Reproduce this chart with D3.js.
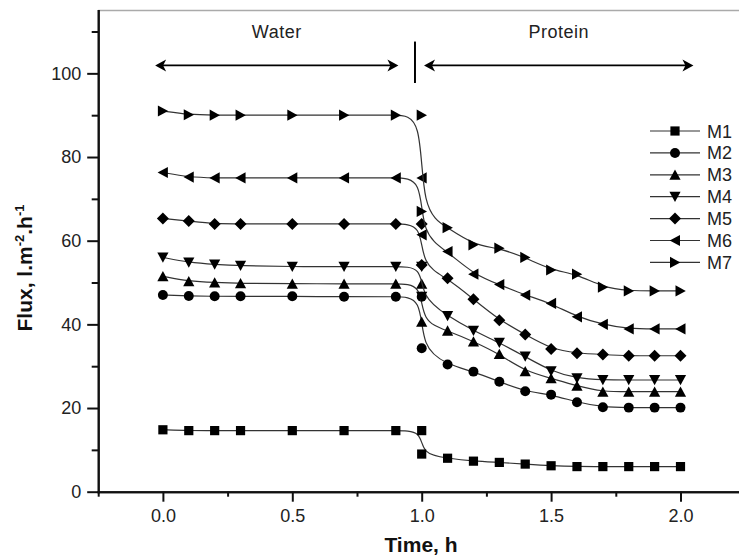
<!DOCTYPE html>
<html>
<head>
<meta charset="utf-8">
<script src="https://cdnjs.cloudflare.com/ajax/libs/d3/7.8.5/d3.min.js"></script>
<style>
	body { margin: 0; background: #fff; }
	svg { display: block; font-family: "Liberation Sans", Arial, sans-serif; }
	.axis text { font-size: 18px; fill: #222; }
	.axis path, .axis line { stroke: #111; stroke-width: 2; }
	.series-line { fill: none; stroke: #333; stroke-width: 1.2; }
	.label { font-size: 18px; fill: #222; }
	.title { font-size: 21px; font-weight: bold; fill: #111; }
</style>
</head>
<body>
<div class="chart"></div>
<script>
// ---- data ----
const times = [0, 0.1, 0.2, 0.3, 0.5, 0.7, 0.9, 1.0, 1.0, 1.1, 1.2, 1.3, 1.4, 1.5, 1.6, 1.7, 1.8, 1.9, 2.0];

const m1 = [14.8, 14.6, 14.6, 14.6, 14.6, 14.6, 14.6, 14.6, 9.0, 8.0, 7.3, 7.0, 6.6, 6.2, 6.0, 6.0, 6.0, 6.0, 6.0];
const m2 = [47.0, 46.8, 46.7, 46.7, 46.7, 46.6, 46.6, 46.6, 34.3, 30.4, 28.7, 26.3, 24.0, 23.2, 21.4, 20.2, 20.1, 20.1, 20.1];
const m3 = [51.5, 50.3, 50.0, 49.8, 49.7, 49.7, 49.7, 49.7, 40.6, 38.5, 35.9, 32.9, 28.8, 27.1, 25.3, 23.9, 23.9, 23.9, 23.9];
const m4 = [56.0, 54.8, 54.3, 54.0, 53.8, 53.8, 53.8, 53.8, 46.6, 42.0, 38.5, 35.6, 32.3, 28.8, 27.1, 26.7, 26.7, 26.7, 26.7];
const m5 = [65.3, 64.7, 64.0, 64.0, 64.0, 64.0, 64.0, 64.0, 54.2, 51.0, 46.0, 41.0, 37.6, 34.1, 33.1, 32.8, 32.5, 32.5, 32.5];
const m6 = [76.3, 75.2, 75.0, 75.0, 75.0, 75.0, 75.0, 75.0, 61.4, 57.4, 52.0, 49.5, 47.0, 45.0, 41.8, 40.0, 38.9, 38.9, 38.9];
const m7 = [91.0, 90.1, 90.0, 90.0, 90.0, 90.0, 90.0, 90.0, 67.0, 63.1, 59.0, 58.2, 56.0, 53.0, 52.0, 48.9, 48.0, 48.0, 48.0];

const seriesNames = ['M1', 'M2', 'M3', 'M4', 'M5', 'M6', 'M7'];
const seriesValues = [m1, m2, m3, m4, m5, m6, m7];
const symbolKinds = ['square', 'circle', 'up', 'down', 'diamond', 'left', 'right'];

const xMajor = [0, 0.5, 1.0, 1.5, 2.0];
const xMinor = [-0.25, 0.25, 0.75, 1.25, 1.75, 2.25];
const yMajor = [0, 20, 40, 60, 80, 100];
const yMinor = [10, 30, 50, 70, 90, 110];

// phase annotations (time, flux)
const phases = [
	{ name: 'Water', from: -0.03, to: 0.91 },
	{ name: 'Protein', from: 1.009, to: 2.05 }
];
const phaseSplit = 0.974;
const arrowLevel = 101.9;

//---->LAYOUT<-----//
const outerW = 739,
	outerH = 557;

const x = d3.scaleLinear().domain([-0.25, 2.25]).range([98.2, 745.2]);
const y = d3.scaleLinear().domain([0, 115]).range([491.7, 10.6]);

const svg = d3.select('.chart').append('svg')
	.attr('width', outerW)
	.attr('height', outerH);

// top frame line (right side is cut off in the picture)
svg.append('line')
	.attr('x1', x(-0.25)).attr('x2', outerW)
	.attr('y1', y(115)).attr('y2', y(115))
	.attr('stroke', '#aaa').attr('stroke-width', 1.5);

// axes
svg.append('g')
	.attr('class', 'x axis')
	.attr('transform', `translate(0, ${y(0)})`)
	.call(d3.axisBottom(x)
		.tickValues(xMajor)
		.tickFormat(d3.format('.1f'))
		.tickSize(10)
		.tickSizeOuter(0)
		.tickPadding(8)
	);

svg.append('g')
	.attr('class', 'x axis minor')
	.attr('transform', `translate(0, ${y(0)})`)
	.call(d3.axisBottom(x)
		.tickValues(xMinor)
		.tickFormat('')
		.tickSize(5)
		.tickSizeOuter(0)
	);

svg.append('g')
	.attr('class', 'y axis')
	.attr('transform', `translate(${x(-0.25)}, 0)`)
	.call(d3.axisLeft(y)
		.tickValues(yMajor)
		.tickSize(11)
		.tickSizeOuter(0)
		.tickPadding(6)
	);

svg.append('g')
	.attr('class', 'y axis minor')
	.attr('transform', `translate(${x(-0.25)}, 0)`)
	.call(d3.axisLeft(y)
		.tickValues(yMinor)
		.tickFormat('')
		.tickSize(6.5)
		.tickSizeOuter(0)
	);

svg.selectAll('.axis .domain').attr('stroke-linecap', 'square');

// axis titles
svg.append('text')
	.attr('class', 'title')
	.attr('x', 421).attr('y', 552)
	.attr('text-anchor', 'middle')
	.text('Time, h');

const yTitle = svg.append('text')
	.attr('class', 'title')
	.attr('transform', 'translate(32, 268) rotate(-90)')
	.attr('text-anchor', 'middle');
yTitle.append('tspan').text('Flux, l.m');
yTitle.append('tspan').attr('dy', -8).attr('font-size', 13).text('-2');
yTitle.append('tspan').attr('dy', 8).text('.h');
yTitle.append('tspan').attr('dy', -8).attr('font-size', 13).text('-1');

// ---- markers ----
function symbolPath(kind) {
	switch (kind) {
		case 'square': return 'M-4.6,-4.6H4.6V4.6H-4.6Z';
		case 'circle': return d3.symbol(d3.symbolCircle, 78)();
		case 'diamond': return 'M0,-6L6,0L0,6L-6,0Z';
		case 'up': return 'M0,-5.3L5.6,5L-5.6,5Z';
		case 'down': return 'M0,5.3L5.6,-5L-5.6,-5Z';
		case 'left': return 'M-5.3,0L5,-5.6L5,5.6Z';
		case 'right': return 'M5.3,0L-5,-5.6L-5,5.6Z';
	}
}

// B-spline connection, as the original plot rounds the step at t = 1 h
const line = d3.line()
	.x(d => x(d.t))
	.y(d => y(d.v))
	.curve(d3.curveBasis);

const gSeries = svg.append('g').attr('class', 'series');

seriesValues.forEach((vals, i) => {
	const pts = vals.map((v, j) => ({ t: times[j], v: v }));
	const g = gSeries.append('g');

	g.append('path')
		.attr('class', 'series-line')
		.attr('d', line(pts));

	g.selectAll('.dot')
		.data(pts)
		.enter().append('path')
		.attr('class', 'dot')
		.attr('d', symbolPath(symbolKinds[i]))
		.attr('transform', d => `translate(${x(d.t)}, ${y(d.v)})`)
		.attr('fill', '#000');
});

// ---- phase arrows ----
function arrowHead(tipX, tipY, dir) {
	// dir = -1 points left, 1 points right
	const L = 11, H = 6, N = 3;
	return `M${tipX},${tipY}L${tipX - dir * L},${tipY - H}L${tipX - dir * (L - N)},${tipY}L${tipX - dir * L},${tipY + H}Z`;
}

const gPhase = svg.append('g').attr('class', 'phases');

phases.forEach(p => {
	const x0 = x(p.from),
		x1 = x(p.to),
		yy = y(arrowLevel);

	gPhase.append('line')
		.attr('x1', x0 + 6).attr('x2', x1 - 6)
		.attr('y1', yy).attr('y2', yy)
		.attr('stroke', '#000').attr('stroke-width', 1.6);

	gPhase.append('path').attr('d', arrowHead(x0, yy, -1)).attr('fill', '#000');
	gPhase.append('path').attr('d', arrowHead(x1, yy, 1)).attr('fill', '#000');

	gPhase.append('text')
		.attr('class', 'label')
		.attr('x', (x0 + x1) / 2)
		.attr('y', 38)
		.attr('text-anchor', 'middle')
		.attr('letter-spacing', 0.5)
		.text(p.name);
});

gPhase.append('line')
	.attr('x1', x(phaseSplit)).attr('x2', x(phaseSplit))
	.attr('y1', y(107.6)).attr('y2', y(97.7))
	.attr('stroke', '#000').attr('stroke-width', 2);

// ---- legend ----
const legend = svg.append('g')
	.attr('class', 'legend')
	.attr('transform', 'translate(650, 131)');

const items = legend.selectAll('.item')
	.data(seriesNames)
	.enter().append('g')
	.attr('class', 'item')
	.attr('transform', (d, i) => `translate(0, ${i * 21.9})`);

items.append('line')
	.attr('x1', 0).attr('x2', 50)
	.attr('stroke', '#333').attr('stroke-width', 1.2);

items.append('path')
	.attr('d', (d, i) => symbolPath(symbolKinds[i]))
	.attr('transform', 'translate(25, 0)')
	.attr('fill', '#000');

items.append('text')
	.attr('class', 'label')
	.attr('x', 57)
	.attr('y', 6.5)
	.attr('font-size', 17)
	.text(d => d);
</script>
</body>
</html>
